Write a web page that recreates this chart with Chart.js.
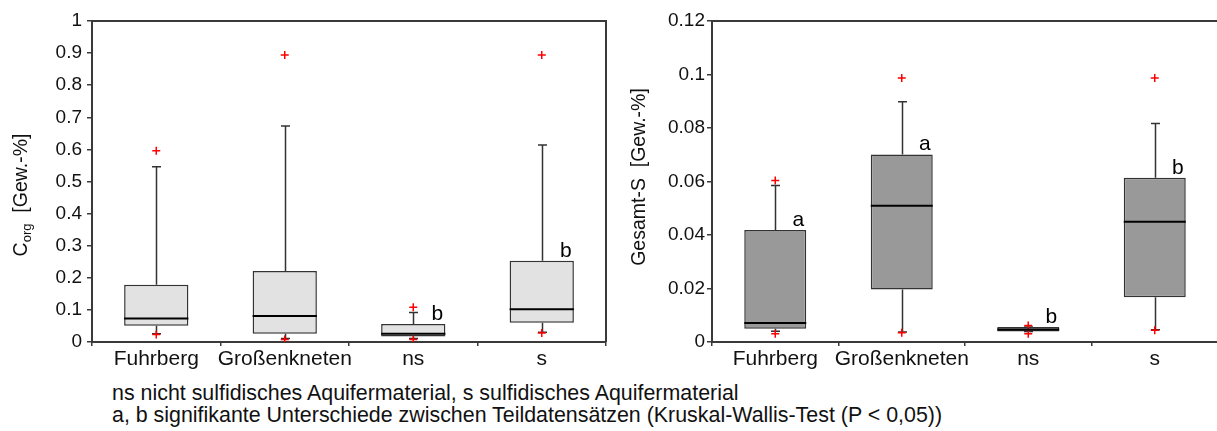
<!DOCTYPE html>
<html lang="de">
<head>
<meta charset="utf-8">
<title>Corg und Gesamt-S</title>
<script src="https://cdn.jsdelivr.net/npm/chart.js@4.4.1/dist/chart.umd.min.js"></script>
<style>
  html, body { margin: 0; padding: 0; background: #ffffff; overflow: hidden; width: 1217px; height: 431px; }
  #wrap { position: relative; width: 1217px; height: 431px; overflow: hidden; }
  canvas { position: absolute; top: 0; }
  #cLeft { left: 0; }
  #cRight { left: 612px; }
  #notes {
    position: absolute; left: 112px; top: 381.5px;
    font-family: "Liberation Sans", Arial, sans-serif; font-size: 21.4px; line-height: 22px;
    color: #111; white-space: nowrap;
  }
</style>
</head>
<body>
<div id="wrap">
  <canvas id="cLeft" width="620" height="380"></canvas>
  <canvas id="cRight" width="620" height="380"></canvas>
  <div id="notes">
    ns nicht sulfidisches Aquifermaterial, s sulfidisches Aquifermaterial<br>
    a, b signifikante Unterschiede zwischen Teildatensätzen (Kruskal-Wallis-Test (P &lt; 0,05))
  </div>
</div>
<script>
// Teildatensätze
const categories = ['Fuhrberg', 'Großenkneten', 'ns', 's'];

// Corg [Gew.-%]
const corgQ1 = [0.051, 0.026, 0.017, 0.060];
const corgMedian = [0.073, 0.081, 0.026, 0.102];
const corgQ3 = [0.178, 0.221, 0.056, 0.253];
const corgWhiskerLow = [0.026, 0.011, 0.011, 0.030];
const corgWhiskerHigh = [0.546, 0.673, 0.092, 0.614];
const corgOutlierLow = [0.023, 0.008, 0.008, 0.028];
const corgOutlierHigh = [0.596, 0.894, 0.108, 0.894];
const corgLetters = ['', '', 'b', 'b'];
const corgTickValues = [0, 0.1, 0.2, 0.3, 0.4, 0.5, 0.6, 0.7, 0.8, 0.9, 1];
const corgTickLabels = ['0', '0.1', '0.2', '0.3', '0.4', '0.5', '0.6', '0.7', '0.8', '0.9', '1'];

// Gesamt-S [Gew.-%]
const sulfQ1 = [0.0050, 0.0196, 0.0039, 0.0167];
const sulfMedian = [0.0071, 0.0509, 0.0047, 0.0450];
const sulfQ3 = [0.0419, 0.0701, 0.0056, 0.0614];
const sulfWhiskerLow = [0.0040, 0.0037, 0.0039, 0.0046];
const sulfWhiskerHigh = [0.0585, 0.0898, 0.0056, 0.0817];
const sulfOutlierLow = [0.0031, 0.0035, 0.0031, 0.0044];
const sulfOutlierHigh = [0.0604, 0.0987, 0.0062, 0.0987];
const sulfLetters = ['a', 'a', 'b', 'b'];
const sulfTickValues = [0, 0.02, 0.04, 0.06, 0.08, 0.1, 0.12];
const sulfTickLabels = ['0', '0.02', '0.04', '0.06', '0.08', '0.1', '0.12'];

const FONT = '"Liberation Sans", Arial, sans-serif';
const AXIS_COLOR = '#3a3a3a';

// Whiskers behind the boxes; medians, letters, frame and axis title on top
const boxPlotPlugin = {
  id: 'boxPlotParts',
  beforeDatasetsDraw(chart) {
    const o = chart.options.plugins.boxPlotParts;
    const ctx = chart.ctx, y = chart.scales.y;
    const meta = chart.getDatasetMeta(0);
    ctx.save();
    ctx.strokeStyle = '#333';
    ctx.lineWidth = 1.5;
    meta.data.forEach((bar, i) => {
      const x = Math.round(bar.x) + 0.5;
      const segs = [[o.q3[i], o.whiskerHigh[i]], [o.q1[i], o.whiskerLow[i]]];
      segs.forEach(([from, to]) => {
        const y0 = y.getPixelForValue(from), y1 = y.getPixelForValue(to);
        ctx.beginPath();
        ctx.moveTo(x, y0); ctx.lineTo(x, y1);
        ctx.moveTo(x - 4.5, y1); ctx.lineTo(x + 4.5, y1);
        ctx.stroke();
      });
    });
    ctx.restore();
  },
  afterDatasetsDraw(chart) {
    const o = chart.options.plugins.boxPlotParts;
    const ctx = chart.ctx, y = chart.scales.y, area = chart.chartArea;
    const meta = chart.getDatasetMeta(0);
    ctx.save();
    // medians
    ctx.strokeStyle = '#000';
    ctx.lineWidth = 2;
    meta.data.forEach((bar, i) => {
      const ym = y.getPixelForValue(o.median[i]);
      ctx.beginPath();
      ctx.moveTo(bar.x - bar.width / 2, ym);
      ctx.lineTo(bar.x + bar.width / 2, ym);
      ctx.stroke();
    });
    // significance letters
    ctx.fillStyle = '#000';
    ctx.font = '21px ' + FONT;
    ctx.textAlign = 'center';
    ctx.textBaseline = 'alphabetic';
    meta.data.forEach((bar, i) => {
      if (!o.letters[i]) return;
      ctx.fillText(o.letters[i], bar.x + bar.width / 2 - 8, y.getPixelForValue(o.q3[i]) - 4);
    });
    // frame: top and right edges of the plot
    ctx.strokeStyle = AXIS_COLOR;
    ctx.lineWidth = 2;
    ctx.beginPath();
    ctx.moveTo(area.left, area.top);
    ctx.lineTo(area.right, area.top);
    ctx.lineTo(area.right, area.bottom);
    ctx.stroke();
    // rotated axis title, optional subscript
    const t = o.title;
    ctx.translate(t.x, t.y);
    ctx.rotate(-Math.PI / 2);
    ctx.textAlign = 'left';
    ctx.textBaseline = 'alphabetic';
    const big = '19.5px ' + FONT, small = '13px ' + FONT;
    ctx.font = big;
    const wMain = ctx.measureText(t.main).width;
    const wRest = ctx.measureText(t.rest).width;
    ctx.font = small;
    const wSub = t.sub ? ctx.measureText(t.sub).width : 0;
    const total = wMain + wSub + wRest;
    let cx = -total / 2;
    ctx.fillStyle = '#111';
    ctx.font = big;
    ctx.fillText(t.main, cx, 7);
    cx += wMain;
    if (t.sub) {
      ctx.font = small;
      ctx.fillText(t.sub, cx, 11);
      cx += wSub;
    }
    ctx.font = big;
    ctx.fillText(t.rest, cx, 7);
    ctx.restore();
  }
};

function makeBoxChart(canvasId, cfg) {
  return new Chart(document.getElementById(canvasId), {
    type: 'bar',
    data: {
      labels: categories,
      datasets: [
        {
          type: 'bar',
          data: categories.map((c, i) => [cfg.q1[i], cfg.q3[i]]),
          backgroundColor: cfg.fill,
          borderColor: '#333',
          borderWidth: 1.5,
          borderSkipped: false,
          barPercentage: cfg.barPct,
          categoryPercentage: 1,
          grouped: false,
          order: 3
        },
        {
          type: 'line',
          data: cfg.outHigh,
          showLine: false,
          pointStyle: 'cross',
          pointRadius: 4,
          pointBorderWidth: 1.5,
          pointBorderColor: '#ff0000',
          pointBackgroundColor: '#ff0000',
          order: 1
        },
        {
          type: 'line',
          data: cfg.outLow,
          showLine: false,
          pointStyle: 'cross',
          pointRadius: 4,
          pointBorderWidth: 1.5,
          pointBorderColor: '#ff0000',
          pointBackgroundColor: '#ff0000',
          order: 1
        }
      ]
    },
    options: {
      responsive: false,
      animation: false,
      devicePixelRatio: 1,
      layout: { padding: { top: 21, right: 14, bottom: 0, left: 0 } },
      plugins: {
        legend: { display: false },
        tooltip: { enabled: false },
        boxPlotParts: {
          q1: cfg.q1, q3: cfg.q3, median: cfg.median,
          whiskerLow: cfg.wLow, whiskerHigh: cfg.wHigh,
          letters: cfg.letters, title: cfg.title
        }
      },
      scales: {
        x: {
          type: 'category',
          offset: true,
          afterFit(s) { s.height = 38; },
          grid: { display: true, offset: true, drawOnChartArea: false, drawTicks: true, tickLength: 4, color: AXIS_COLOR, lineWidth: 1.5 },
          border: { display: true, color: AXIS_COLOR, width: 2 },
          ticks: { color: '#111', font: { family: FONT, size: 21 }, padding: 1, maxRotation: 0, autoSkip: false }
        },
        y: {
          type: 'linear',
          min: 0,
          max: cfg.yMax,
          afterFit(s) { s.width = cfg.yWidth; },
          afterBuildTicks(s) { s.ticks = cfg.tickValues.map(v => ({ value: v })); },
          grid: { display: true, drawOnChartArea: false, drawTicks: true, tickLength: 5, color: AXIS_COLOR, lineWidth: 1.5 },
          border: { display: true, color: AXIS_COLOR, width: 2 },
          ticks: {
            color: '#111', font: { family: FONT, size: 19 }, padding: cfg.tickPad,
            callback: (v, i) => cfg.tickLabels[i]
          }
        }
      }
    },
    plugins: [boxPlotPlugin]
  });
}

makeBoxChart('cLeft', {
  q1: corgQ1, q3: corgQ3, median: corgMedian,
  wLow: corgWhiskerLow, wHigh: corgWhiskerHigh,
  outLow: corgOutlierLow, outHigh: corgOutlierHigh,
  letters: corgLetters, tickValues: corgTickValues, tickLabels: corgTickLabels,
  yMax: 1, yWidth: 92, tickPad: 5, fill: '#e2e2e2', barPct: 0.5,
  title: { x: 20, y: 195, main: 'C', sub: 'org', rest: '  [Gew.-%]' }
});

makeBoxChart('cRight', {
  q1: sulfQ1, q3: sulfQ3, median: sulfMedian,
  wLow: sulfWhiskerLow, wHigh: sulfWhiskerHigh,
  outLow: sulfOutlierLow, outHigh: sulfOutlierHigh,
  letters: sulfLetters, tickValues: sulfTickValues, tickLabels: sulfTickLabels,
  yMax: 0.12, yWidth: 100, tickPad: 2, fill: '#999999', barPct: 0.49,
  title: { x: 26, y: 177, main: 'Gesamt-S  [Gew.-%]', sub: '', rest: '' }
});
</script>
</body>
</html>
